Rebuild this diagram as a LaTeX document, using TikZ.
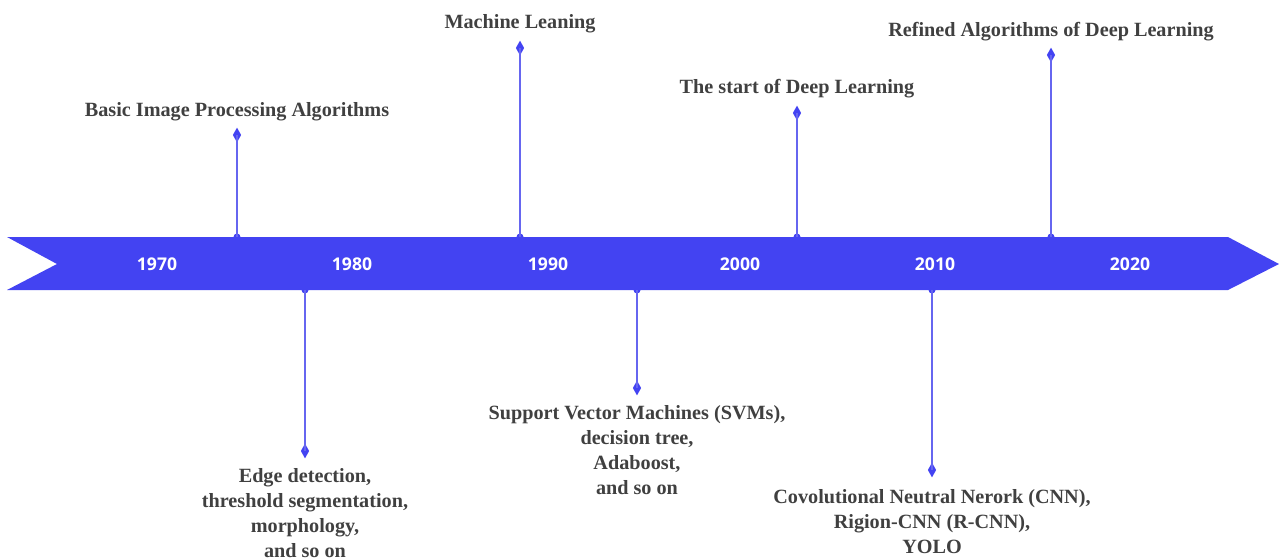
\documentclass[tikz,border=0pt]{standalone}
\usepackage{fontspec}
\setmainfont{Liberation Serif}
\newfontfamily\yearfont{Open Sans}
\usepackage{xcolor}
\usetikzlibrary{positioning, shapes.geometric}

\definecolor{band}{HTML}{4343F2}
\definecolor{stem}{HTML}{6666F0}
\definecolor{ink}{HTML}{404040}

\begin{document}
\begin{tikzpicture}[
      x=0.02cm, y=-0.02cm,
      year/.style={text=white, font=\yearfont\bfseries\fontsize{10}{12}\selectfont},
      event/.style={text=ink, align=center, font=\bfseries\fontsize{11.5}{14.2}\selectfont, inner sep=0pt},
      tip/.style={diamond, fill=band, draw=none, minimum width=8.5*0.02cm, minimum height=15*0.02cm, inner sep=0pt},
      bump/.style={circle, fill=band, minimum size=7*0.02cm, inner sep=0pt},
      every edge/.style={draw=stem, line width=0.7pt}
    ]
    \useasboundingbox (0,0) rectangle (1279,559);

    % the band
    \fill[band] (7,237) -- (1228,237) -- (1279,264) -- (1228,290) -- (7,290) -- (57,264) -- cycle;
    \node[year] (y1970) at (157,264) {1970};
    \node[year] (y1980) at (352,264) {1980};
    \node[year] (y1990) at (548,264) {1990};
    \node[year] (y2000) at (740,264) {2000};
    \node[year] (y2010) at (935,264) {2010};
    \node[year] (y2020) at (1130,264) {2020};

    % events above
    \node[bump] (b1) at (237,237) {};
    \node[bump] (b2) at (520,237) {};
    \node[bump] (b3) at (797,237) {};
    \node[bump] (b4) at (1051,237) {};
    \node[tip] (t1) at (237,135) {};
    \node[tip] (t2) at (520,48) {};
    \node[tip] (t3) at (797,113) {};
    \node[tip] (t4) at (1051,55) {};
    \node[event] (e1) at (237,112) {Basic Image Processing Algorithms};
    \node[event] (e2) at (520,24) {Machine Leaning};
    \node[event] (e3) at (797,89) {The start of Deep Learning};
    \node[event] (e4) at (1051,32) {Refined Algorithms of Deep Learning};
    \draw (b1.center) edge (t1.center);
    \draw (b2.center) edge (t2.center);
    \draw (b3.center) edge (t3.center);
    \draw (b4.center) edge (t4.center);

    % events below
    \node[bump] (b5) at (305,290) {};
    \node[bump] (b6) at (637,290) {};
    \node[bump] (b7) at (932,290) {};
    \node[tip] (t5) at (305,451) {};
    \node[tip] (t6) at (637,388) {};
    \node[tip] (t7) at (932,470) {};
    \node[event, anchor=north] (e5) at (305,468) {Edge detection,\\threshold segmentation,\\morphology,\\and so on};
    \node[event, anchor=north] (e6) at (637,405) {Support Vector Machines (SVMs),\\decision tree,\\Adaboost,\\and so on};
    \node[event, anchor=north] (e7) at (932,489) {Covolutional Neutral Nerork (CNN),\\Rigion-CNN (R-CNN),\\YOLO};
    \draw (b5.center) edge (t5.center);
    \draw (b6.center) edge (t6.center);
    \draw (b7.center) edge (t7.center);
  \end{tikzpicture}
\end{document}
